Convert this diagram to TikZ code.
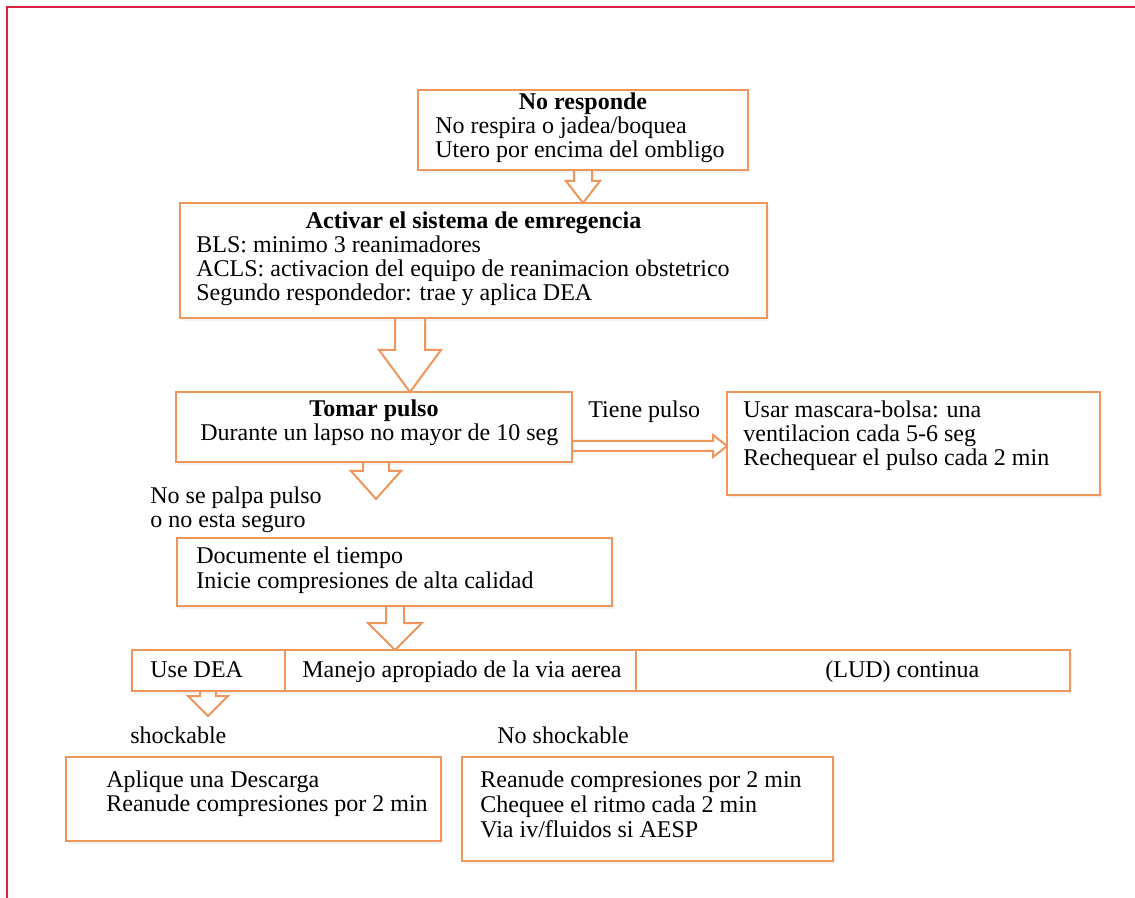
\documentclass[tikz,border=0pt]{standalone}
\usepackage{fontspec}
\setmainfont{Liberation Serif}
\usetikzlibrary{calc,shadows}
\definecolor{boxorange}{RGB}{238,150,92}
\definecolor{framered}{RGB}{218,32,62}

% box from its top-left corner (#2,#3) to its bottom-right corner (#4,#5)
\newcommand\mkbox[5]{%
  \node[box, minimum width={(#4-#2)*0.5pt}, minimum height={(#5-#3)*0.5pt}] (#1) at (#2,#3) {};}

% hollow block arrow pointing down, centred on x=#1, from #2 to #3
% #4 half stem width, #5 half head width, #6 head length (all in units)
\newcommand\downblock[6]{%
  \draw[arrowline] let \p1=(#1,0 |- #2), \p2=(#1,0 |- #3) in
    (\x1-#4*0.5pt,\y1) -- (\x1-#4*0.5pt,\y2+#6*0.5pt) -- (\x1-#5*0.5pt,\y2+#6*0.5pt)
    -- (\x1,\y2) -- (\x1+#5*0.5pt,\y2+#6*0.5pt) -- (\x1+#4*0.5pt,\y2+#6*0.5pt)
    -- (\x1+#4*0.5pt,\y1);}

\begin{document}
\begin{tikzpicture}[x=0.5pt,y=-0.5pt,
  box/.style={draw=boxorange, line width=1pt, fill=white, inner sep=0pt, outer sep=0pt,
    anchor=north west, drop shadow={shadow xshift=1pt, shadow yshift=-1.5pt, opacity=0.10}},
  txt/.style={inner sep=0pt, anchor=base west, font=\fontsize{12}{14}\selectfont},
  hdr/.style={inner sep=0pt, anchor=base, font=\fontsize{12}{14}\selectfont\bfseries},
  arrowline/.style={draw=boxorange, line width=1pt, line join=miter}]

\fill[white] (0,0) rectangle (1135,898);
\useasboundingbox (0,0) rectangle (1135,898);

% page frame
\draw[framered, line width=1pt] (7,898) -- (7,7) -- (1135,7);

% boxes
\mkbox{B1}{418}{90}{748}{170}
\mkbox{B2}{180}{203}{767}{318}
\mkbox{B3}{176}{392}{572}{462}
\mkbox{B4}{727}{392}{1100}{495}
\mkbox{B5}{177}{538}{612}{606}
\mkbox{R1}{132}{650}{285}{691}
\mkbox{R2}{285}{650}{636}{691}
\mkbox{R3}{636}{650}{1070}{691}
\mkbox{B6}{66}{757}{441}{841}
\mkbox{B7}{462}{757}{833}{861}

% texts
\node[hdr] (h1) at (B1.north |- 0,110) {No responde};
\node[txt] (t11) at (435,134) {No respira o jadea/boquea};
\node[txt] (t12) at (435,158) {Utero por encima del ombligo};

\node[hdr] (h2) at (B2.north |- 0,229) {Activar el sistema de emregencia};
\node[txt] (t21) at (196,253) {BLS: minimo 3 reanimadores};
\node[txt] (t22) at (196,277) {ACLS: activacion del equipo de reanimacion obstetrico};
\node[txt] (t23) at (196,301) {Segundo respondedor: trae y aplica DEA};

\node[hdr] (h3) at (B3.north |- 0,417) {Tomar pulso};
\node[txt] (t31) at (200,441) {Durante un lapso no mayor de 10 seg};

\node[txt] (lp) at (588,418) {Tiene pulso};
\node[txt] (t41) at (743,418) {Usar mascara-bolsa: una};
\node[txt] (t42) at (743,442) {ventilacion cada 5-6 seg};
\node[txt] (t43) at (743,466) {Rechequear el pulso cada 2 min};

\node[txt] (ln1) at (150,503) {No se palpa pulso};
\node[txt] (ln2) at (150,527) {o no esta seguro};

\node[txt] (t51) at (196,563) {Documente el tiempo};
\node[txt] (t52) at (196,588) {Inicie compresiones de alta calidad};

\node[txt] (tr1) at (150,677) {Use DEA};
\node[txt] (tr2) at (302,677) {Manejo apropiado de la via aerea};
\node[txt] (tr3) at (825,677) {(LUD) continua};

\node[txt] (ls) at (130,743) {shockable};
\node[txt] (lns) at (497,743) {No shockable};

\node[txt] (t61) at (106,787) {Aplique una Descarga};
\node[txt] (t62) at (106,811) {Reanude compresiones por 2 min};

\node[txt] (t71) at (480,787) {Reanude compresiones por 2 min};
\node[txt] (t72) at (480,812) {Chequee el ritmo cada 2 min};
\node[txt] (t73) at (480,837) {Via iv/fluidos si AESP};

% connectors
\coordinate (a3end) at (376,499);
\coordinate (a5end) at (208,716);
\downblock{583}{B1.south}{B2.north}{9}{17}{22}
\downblock{410}{B2.south}{B3.north}{15}{31}{42}
\downblock{376}{B3.south}{a3end}{13}{25}{28}
\downblock{395}{B5.south}{R2.north}{9}{27}{27}
\downblock{208}{R1.south}{a5end}{8}{20}{20}

\draw[arrowline] let \p1=(B3.east |- 0,446), \p2=(B4.west |- 0,446) in
  (\x1,\y1+2.5pt) -- (\x2-7pt,\y1+2.5pt) -- (\x2-7pt,\y1+5.5pt) -- (\x2,\y1)
  -- (\x2-7pt,\y1-5.5pt) -- (\x2-7pt,\y1-2.5pt) -- (\x1,\y1-2.5pt);
\end{tikzpicture}
\end{document}
